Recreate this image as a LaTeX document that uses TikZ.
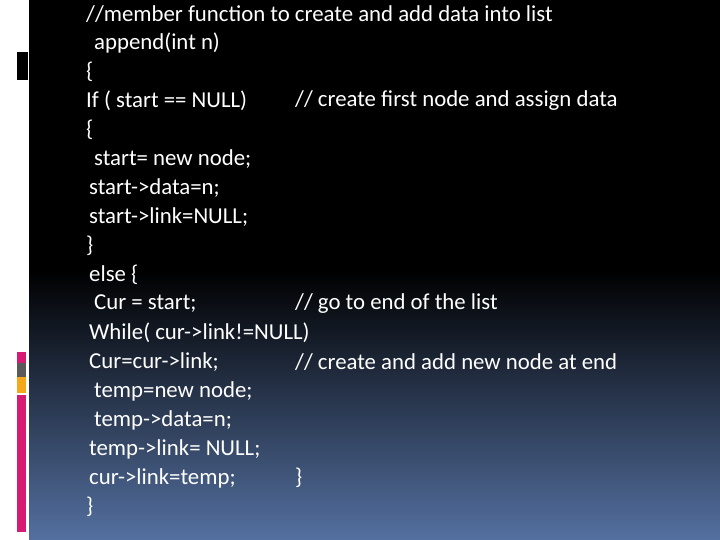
\documentclass[tikz,border=0pt]{standalone}
\usepackage{fontspec}
\setmainfont{Carlito}
\definecolor{slidebot}{HTML}{5470A0}
\definecolor{barpink}{HTML}{D81B72}
\definecolor{bargray}{HTML}{5A5A5A}
\definecolor{barorange}{HTML}{F5A81C}
\begin{document}
\begin{tikzpicture}[
        x=1pt, y=-1pt,
        code/.style={anchor=west, text=white, inner sep=0pt, font=\fontsize{22.8}{26}\selectfont}
    ]
        % Background
        \useasboundingbox (0,0) rectangle (720,540);
        \fill[white] (0,0) rectangle (29,540);
        \shade[top color=black, bottom color=slidebot, middle color=black] (29,0) rectangle (720,540);
        \fill[black] (29,0) rectangle (720,200);

        % Side marks
        \fill[black] (17,52) rectangle (28,80);
        \fill[barpink] (17,352) rectangle (26,363);
        \fill[bargray] (17,363) rectangle (26,377);
        \fill[barorange] (17,377) rectangle (26,393);
        \fill[barpink] (17,395) rectangle (26,532);

        % Code lines
        \foreach \i/\xx/\txt in {
            1/86/{//member function to create and add data into list},
            2/94/{append(int n)},
            3/86/{\{},
            4/86/{If ( start == NULL)},
            5/86/{\{},
            6/94/{start= new node;},
            7/89/{start->data=n;},
            8/89/{start->link=NULL;},
            9/86/{\}},
            10/89/{else \{},
            11/94/{Cur = start;},
            12/89/{While( cur->link!=NULL)},
            13/89/{Cur=cur->link;},
            14/94/{temp=new node;},
            15/94/{temp->data=n;},
            16/89/{temp->link= NULL;},
            17/89/{cur->link=temp;},
            18/86/{\}}}
            \node[code] (l\i) at (\xx,{14+29*(\i-1)}) {\txt};

        % Comments
        \node[code] (c4) at (295,101) {// create first node and assign data};
        \node[code] (c11) at (295,304) {// go to end of the list};
        \node[code] (c13) at (295,362) {// create and add new node at end};
        \node[code] (c17) at (295,478) {\}};
    \end{tikzpicture}
\end{document}
